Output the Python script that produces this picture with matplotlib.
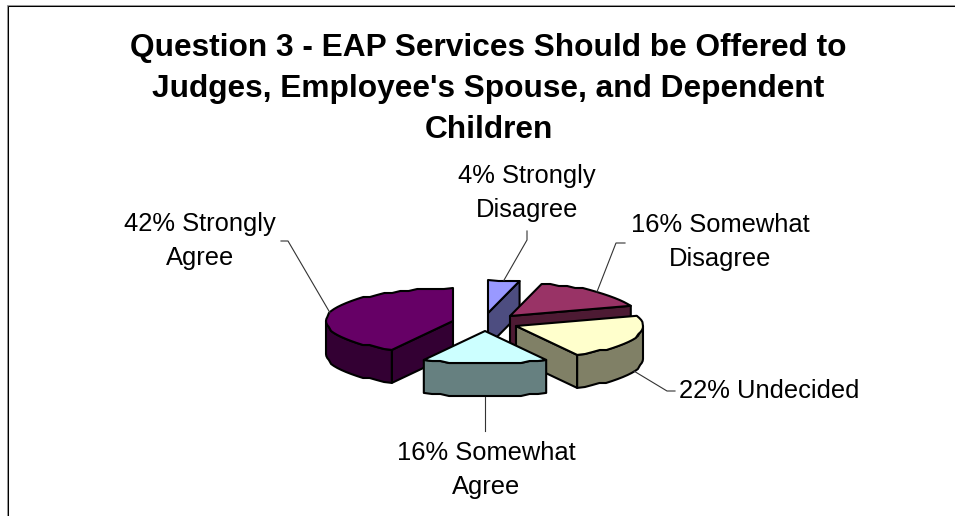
import numpy as np
import matplotlib
matplotlib.use("Agg")
import matplotlib.pyplot as plt
from matplotlib.patches import Polygon

TITLE = "Question 3 - EAP Services Should be Offered to\nJudges, Employee's Spouse, and Dependent\nChildren"
categories = ["Strongly Disagree", "Somewhat Disagree", "Undecided", "Somewhat Agree", "Strongly Agree"]
shares = [4, 16, 22, 16, 42]
label_lines = ["4% Strongly\nDisagree", "16% Somewhat\nDisagree", "22% Undecided", "16% Somewhat\nAgree", "42% Strongly\nAgree"]

top_colors = ["#9999FF", "#993366", "#FFFFCC", "#CCFFFF", "#660066"]
wall_colors = ["#4D4D80", "#4D1A33", "#808066", "#668080", "#330033"]

# Pie geometry in pixels: ellipse radii, wall height, and where each wedge tip sits once exploded
RX, RY, DEPTH = 127, 33, 33
STEP = 2.0
tips = [(488, 313), (510, 316), (516, 326), (485, 331), (453, 321)]
# Leader paths: an elbow near the label, then a short stub ending at the label
leader_elbows = [(527, 240), (616, 243), (667, 391), (485, 415), (288, 241)]
leader_ends = [(527, 231), (625, 243), (675, 391), (485, 431), (281, 241)]
# Centre x and last-line baseline of each label
label_pos = [(527, 217), (720, 266), (769.5, 398), (486, 494), (200, 265)]

paint_order = [0, 1, 4, 2, 3]

fig = plt.figure(figsize=(9.55, 5.16), dpi=100)
ax = fig.add_axes([0, 0, 1, 1])
ax.set_xlim(0, 955)
ax.set_ylim(516, 0)
ax.axis("off")

LW = 1.5
FONT = "Liberation Sans"


def rim(tip, a0, a1, drop=0.0):
    # Points along the elliptical rim, angles clockwise from twelve o'clock.
    # Snapping rows keeps the slightly scalloped outline of a low-resolution pie.
    n = max(2, int(abs(a1 - a0) / 4) + 1)
    t = np.radians(np.linspace(a0, a1, n))
    x = RX * np.sin(t)
    y = -RY * np.cos(t)
    y[1:-1] = np.round(y[1:-1] / STEP) * STEP
    return np.column_stack([tip[0] + x, tip[1] + y + drop])


def rim_point(tip, angle):
    t = np.radians(angle)
    return np.array([tip[0] + RX * np.sin(t), tip[1] - RY * np.cos(t)])


fractions = np.array(shares, dtype=float) / sum(shares)
edges = np.concatenate([[0], np.cumsum(fractions) * 360])
face_style = dict(ec="black", lw=LW, joinstyle="round")

for i in paint_order:
    a0, a1 = edges[i], edges[i + 1]
    tip = np.array(tips[i], dtype=float)
    down = np.array([0, DEPTH])

    # Flat side walls that face the viewer
    for angle, visible in ((a1, 0 < a1 < 180), (a0, 180 < a0 < 360)):
        if visible:
            p = rim_point(tip, angle)
            ax.add_patch(Polygon([tip, p, p + down, tip + down], fc=wall_colors[i], **face_style))

    # Curved outer wall on the near half of the rim
    lo, hi = max(a0, 90), min(a1, 270)
    if lo < hi:
        ax.add_patch(Polygon(np.vstack([rim(tip, lo, hi), rim(tip, hi, lo, drop=DEPTH)]),
                             fc=wall_colors[i], **face_style))

    # Top face of the wedge
    ax.add_patch(Polygon(np.vstack([[tip], rim(tip, a0, a1)]), fc=top_colors[i], **face_style))

# Leader lines run from the rim at each wedge's middle angle out to the label
for i in range(len(shares)):
    mid = (edges[i] + edges[i + 1]) / 2
    start = rim_point(tips[i], mid)
    if 90 < mid < 270:
        start = start + [0, DEPTH]
    xs = [start[0], leader_elbows[i][0], leader_ends[i][0]]
    ys = [start[1], leader_elbows[i][1], leader_ends[i][1]]
    ax.plot(xs, ys, color="#333333", lw=0.8, zorder=5, solid_joinstyle="miter")
    ax.text(label_pos[i][0], label_pos[i][1], label_lines[i], ha="center", va="baseline", fontsize=18.4,
            family=FONT, linespacing=1.55, color="black", zorder=6)

ax.text(488.5, 138, TITLE, ha="center", va="baseline", fontsize=22.8, fontweight="bold", family=FONT,
        linespacing=1.48, color="black")

# Chart-area frame: only the top and left sides fall inside the canvas
ax.plot([6.5, 6.5, 955], [516, 4.5, 4.5], color="#999999", lw=0.75, solid_joinstyle="miter")
ax.plot([7.5, 7.5, 955], [516, 5.5, 5.5], color="black", lw=0.75, solid_joinstyle="miter")

fig.savefig("out.png", dpi=100)
